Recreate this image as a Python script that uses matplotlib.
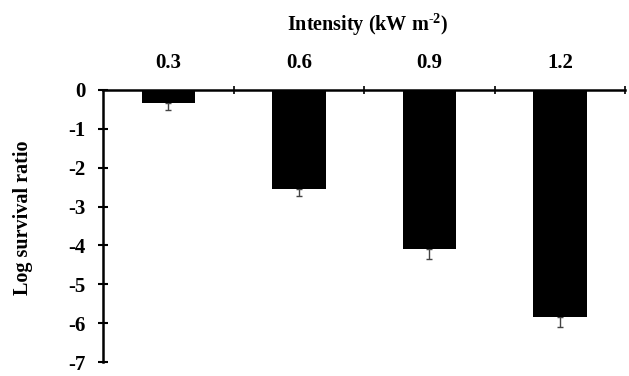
import matplotlib
matplotlib.use("Agg")
import matplotlib.pyplot as plt
import numpy as np

categories = ["0.3", "0.6", "0.9", "1.2"]
values = [-0.33, -2.54, -4.1, -5.85]
errors = [0.2, 0.2, 0.25, 0.25]
yticks = [0, -1, -2, -3, -4, -5, -6, -7]

plt.rcParams['font.family'] = 'Liberation Serif'
plt.rcParams['font.weight'] = 'bold'
plt.rcParams['mathtext.fontset'] = 'custom'
plt.rcParams['mathtext.rm'] = 'Liberation Serif:bold'
plt.rcParams['mathtext.default'] = 'rm'

fig = plt.figure(figsize=(6.29, 3.76), dpi=100)
ax = fig.add_axes([0.164, 0.037, 0.830, 0.724])

x = np.arange(len(categories))
ax.bar(x, values, width=0.41, color='black', zorder=2)
ax.errorbar(x, values, yerr=[errors, [0]*len(errors)], fmt='none', ecolor='#444444',
            elinewidth=1, capsize=2.5, capthick=1, zorder=1)

ax.set_xlim(-0.5, 3.5)
ax.set_ylim(-7, 0)
ax.set_yticks(yticks)
ax.set_yticklabels([str(t) for t in yticks], fontsize=15, fontweight='bold')

ax.spines['right'].set_visible(False)
ax.spines['bottom'].set_visible(False)
ax.spines['left'].set_linewidth(1.8)
ax.spines['top'].set_linewidth(1.8)
ax.spines['top'].set_zorder(3)

ax.xaxis.tick_top()
ax.set_xticks([0.5, 1.5, 2.5, 3.5])
ax.set_xticklabels([])
ax.tick_params(axis='x', which='major', direction='inout', length=6, width=1.2, top=True, bottom=False)
ax.set_xticks(x, minor=True)
ax.set_xticklabels(categories, minor=True, fontsize=15, fontweight='bold')
ax.tick_params(axis='x', which='minor', length=0, pad=12, top=True, bottom=False, labeltop=True, labelbottom=False)
ax.tick_params(axis='y', direction='inout', length=7, width=1.5, pad=9)

fig.text(0.585, 0.935, r"Intensity (kW m$^{\text{-}2}$)", ha='center', va='center', fontsize=14.5, fontweight='bold')
fig.text(0.037, 0.42, "Log survival ratio", ha='center', va='center', rotation=90, fontsize=14.5, fontweight='bold')

fig.savefig("out.png", dpi=100)
